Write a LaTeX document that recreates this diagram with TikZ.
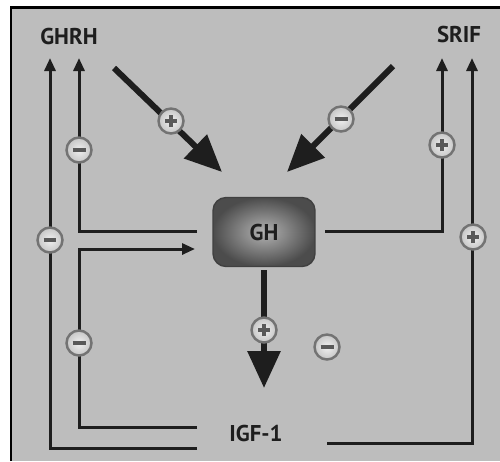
\documentclass[tikz,border=0pt]{standalone}
\usepackage{fontspec}
\setmainfont{PT Sans}
\usetikzlibrary{arrows.meta,calc}
\definecolor{bg}{HTML}{BDBDBD}
\definecolor{ink}{HTML}{1E1E1E}
\begin{document}
\begin{tikzpicture}[x=0.02cm,y=-0.02cm,
  lbl/.style={font=\bfseries\fontsize{13}{15}\selectfont, text=ink, inner sep=0pt},
  fb/.style={draw=ink, line width=0.6mm, -{Triangle[width=2.2mm,length=2.6mm]}},
  bigarrow/.style={draw=ink, line width=1.2mm, -{Triangle[width=6.4mm,length=7.4mm]}},
  sign/.style={circle, minimum size=0.5cm, inner sep=0pt, draw=black!55, line width=1.4pt,
    inner color=gray!12, outer color=gray!45, shade},
  splus/.style={sign, path picture={
    \draw[black!65, line width=2pt]
      ([xshift=-0.12cm]path picture bounding box.center) -- ([xshift=0.12cm]path picture bounding box.center)
      ([yshift=-0.12cm]path picture bounding box.center) -- ([yshift=0.12cm]path picture bounding box.center);}},
  sminus/.style={sign, path picture={
    \draw[black!65, line width=2.4pt]
      ([xshift=-0.13cm]path picture bounding box.center) -- ([xshift=0.13cm]path picture bounding box.center);}},
  ghbox/.style={rectangle, rounded corners=0.26cm, minimum width=2.04cm, minimum height=1.38cm,
    draw=black!75, line width=0.8pt, inner color=gray!60, outer color=black!70, shade,
    font=\bfseries\fontsize{13}{15}\selectfont, text=ink}
]
\useasboundingbox (0,0) rectangle (500,461);
\fill[white] (0,0) rectangle (500,461);
\fill[bg] (11,7) rectangle (500,461);
\draw[black, line width=0.6mm] (11,461) -- (11,7) -- (500,7);

% main nodes
\node[lbl] (ghrh) at (69,36) {GHRH};
\node[lbl] (srif) at (459,34) {SRIF};
\node[ghbox] (gh) at (264,232) {GH};
\node[lbl] (igf) at (256,433) {IGF-1};

% arrow tips under the labels
\coordinate (ghrhA) at (50,58);
\coordinate (ghrhB) at (79,58);
\coordinate (srifA) at (442,58);
\coordinate (srifB) at (472,58);

% line ends near GH and IGF-1
\coordinate (ghL) at (197,231);
\coordinate (ghLin) at (195,249);
\coordinate (ghR) at (325,231);
\coordinate (igfLtop) at (197,427);
\coordinate (igfLbot) at (197,448);
\coordinate (igfR) at (327,443);

% feedback connectors
\draw[fb] (ghL) -| (ghrhB);
\draw[fb] (igfLbot) -| (ghrhA);
\draw[fb] (igfLtop) -| (79,249) -- (ghLin);
\draw[fb] (ghR) -| (srifA);
\draw[fb] (igfR) -| (srifB);

% main arrows
\coordinate (gS) at (114,68);
\coordinate (sS) at (393,66);
\coordinate (gT) at (222,172);
\coordinate (sT) at (287,172);
\coordinate (ghD) at (264,388);
\draw[bigarrow] (gS) -- (gT);
\draw[bigarrow] (sS) -- (sT);
\draw[bigarrow] ($(gh.south)+(0,3)$) -- (ghD);

% signs
\node[sminus] (m1) at (79,150) {};
\node[sminus] (m2) at (50,240) {};
\node[sminus] (m3) at (79,343) {};
\node[sminus] (m4) at (327,347) {};
\node[sminus] (m5) at (341,119) {};
\node[splus] (p1) at (171,121) {};
\node[splus] (p2) at (442,145) {};
\node[splus] (p3) at (473,237) {};
\node[splus] (p4) at (264,330) {};
\end{tikzpicture}
\end{document}
